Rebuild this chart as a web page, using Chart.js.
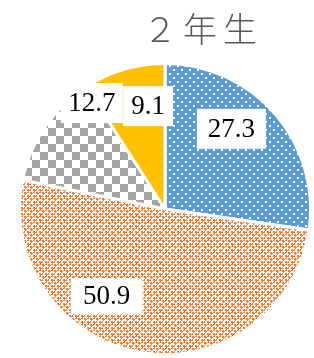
<!DOCTYPE html>
<html>
<head>
<meta charset="utf-8">
<script src="https://cdn.jsdelivr.net/npm/chart.js@4"></script>
<style>
  html, body { margin: 0; padding: 0; background: #ffffff; }
  #wrap { position: relative; width: 314px; height: 358px; overflow: hidden; }
  #title { position: absolute; left: 140px; top: 4px; width: 126px; text-align: center;
           font-family: "Noto Sans CJK JP", sans-serif; font-weight: 300; font-size: 34px;
           letter-spacing: 6px; color: #595959; line-height: 48px; white-space: nowrap; }
  canvas { position: absolute; left: 0; top: 0; }
</style>
</head>
<body>
<div id="wrap">
  <canvas id="c" width="314" height="358"></canvas>
  <div id="title">２年生</div>
</div>
<script>
const categories = ["A", "B", "C", "D"];
const values = [27.3, 50.9, 12.7, 9.1];
const labelTexts = ["27.3", "50.9", "12.7", "9.1"];

// label placement relative to pie centre, as fractions of the radius
const labelPlace = [[0.456, -0.551], [-0.401, 0.599], [-0.503, -0.728], [-0.116, -0.707]];
const labelBoxW = [69, 72, 62, 50];
const labelBoxH = [40, 36, 40, 40];

function makePattern(size, draw) {
  const c = document.createElement('canvas');
  c.width = size; c.height = size;
  const g = c.getContext('2d');
  draw(g);
  return document.getElementById('c').getContext('2d').createPattern(c, 'repeat');
}
const bluePat = makePattern(8, g => {
  g.fillStyle = '#5b9bd5'; g.fillRect(0, 0, 8, 8);
  g.fillStyle = '#ffffff';
  g.fillRect(1, 1, 2, 2);
  g.fillRect(5, 5, 2, 2);
});
const orangePat = makePattern(6, g => {
  g.fillStyle = '#ffffff'; g.fillRect(0, 0, 6, 6);
  g.fillStyle = '#ed7d31';
  g.fillRect(0, 0, 2, 2); g.fillRect(3, 3, 2, 2);
  g.fillRect(2, 1, 1, 1); g.fillRect(1, 2, 1, 1);
  g.fillRect(5, 4, 1, 1); g.fillRect(4, 5, 1, 1);
  g.fillRect(3, 0, 2, 1); g.fillRect(0, 3, 1, 2);
});
const grayPat = makePattern(16, g => {
  g.fillStyle = '#ffffff'; g.fillRect(0, 0, 16, 16);
  g.fillStyle = '#a5a5a5';
  g.fillRect(0, 0, 8, 8); g.fillRect(8, 8, 8, 8);
});
const colors = [bluePat, orangePat, grayPat, '#ffc000'];

const labelPlugin = {
  id: 'boxLabels',
  afterDatasetsDraw(chart) {
    const ctx = chart.ctx;
    const meta = chart.getDatasetMeta(0);
    ctx.save();
    ctx.font = '27px "Liberation Serif", serif';
    ctx.textAlign = 'center';
    ctx.textBaseline = 'middle';
    meta.data.forEach((arc, i) => {
      const r = arc.outerRadius;
      const x = arc.x + labelPlace[i][0] * r;
      const y = arc.y + labelPlace[i][1] * r;
      ctx.fillStyle = '#ffffff';
      ctx.fillRect(x - labelBoxW[i] / 2, y - labelBoxH[i] / 2, labelBoxW[i], labelBoxH[i]);
      ctx.fillStyle = '#000000';
      ctx.fillText(labelTexts[i], x, y + 1);
    });
    ctx.restore();
  }
};

new Chart(document.getElementById('c'), {
  type: 'pie',
  data: {
    labels: categories,
    datasets: [{
      data: values,
      backgroundColor: colors,
      borderColor: '#ffffff',
      borderWidth: 3
    }]
  },
  options: {
    responsive: false,
    animation: false,
    layout: { padding: { left: 18, right: 2, top: 62, bottom: 2 } },
    plugins: { legend: { display: false }, tooltip: { enabled: false }, title: { display: false } }
  },
  plugins: [labelPlugin]
});
</script>
</body>
</html>
